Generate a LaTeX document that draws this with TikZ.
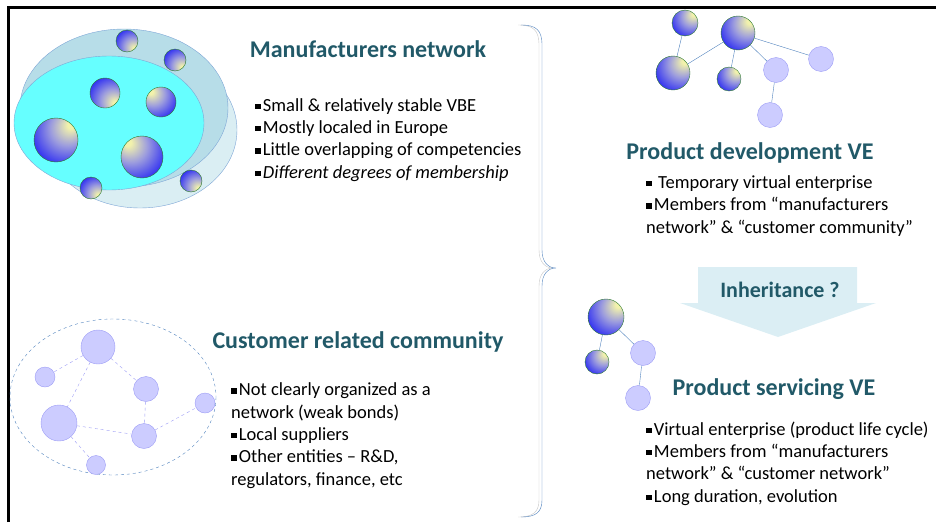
\documentclass[tikz,border=0pt]{standalone}
\usepackage{fontspec}
\setmainfont{Carlito}
\usepackage{xcolor}
\usetikzlibrary{shapes.geometric}

\definecolor{titleteal}{HTML}{215968}
\definecolor{ellA}{HTML}{B7DDE8}
\definecolor{ellB}{HTML}{DAEEF3}
\definecolor{ellC}{HTML}{66FFFF}
\definecolor{ellline}{HTML}{7EA6D6}
\definecolor{lav}{HTML}{CCCCFF}
\definecolor{lavline}{HTML}{9C9CF5}
\definecolor{linkblue}{HTML}{4F81BD}
\definecolor{ballgreen}{HTML}{2C7A2C}
\definecolor{vyel}{HTML}{F2F2AC}
\definecolor{vmid}{HTML}{9C9CDE}
\definecolor{vblue}{HTML}{1E1EF5}
\definecolor{arrowfill}{HTML}{DBEEF4}

% highlighted balls, the highlight sits in one corner
\pgfdeclareradialshading{vballne}{\pgfpoint{18bp}{18bp}}{color(0bp)=(vyel); color(4bp)=(vyel); color(20bp)=(vmid); color(42bp)=(vblue); color(80bp)=(vblue)}
\pgfdeclareradialshading{vballnw}{\pgfpoint{-18bp}{18bp}}{color(0bp)=(vyel); color(4bp)=(vyel); color(20bp)=(vmid); color(42bp)=(vblue); color(80bp)=(vblue)}
\pgfdeclareradialshading{vballse}{\pgfpoint{18bp}{-18bp}}{color(0bp)=(vyel); color(4bp)=(vyel); color(20bp)=(vmid); color(42bp)=(vblue); color(80bp)=(vblue)}

\newcommand{\sqb}{\raisebox{0.22ex}{\rule{0.3em}{0.3em}}\hspace{0.12em}}

\tikzset{
  vball/.style={circle, draw=ballgreen, thin, shading=vballne, inner sep=0pt, minimum size=#1},
  lball/.style={circle, draw=lavline, fill=lav, inner sep=0pt, minimum size=#1},
  title/.style={font=\bfseries\fontsize{24}{28}\selectfont, text=titleteal, inner sep=0pt},
  bullets/.style={font=\fontsize{18.5}{22.3}\selectfont, align=left, inner sep=0pt, anchor=base west},
  link/.style={draw=linkblue, thin},
  weaklink/.style={draw=lavline, dashed, thin}
}

\begin{document}
\begin{tikzpicture}[x=1pt,y=-1pt]
    \useasboundingbox (0,0) rectangle (936,522);

    % Frame on the top and left side
    \draw[line width=3pt] (8,522) -- (8,7) -- (936,7);

    % Manufacturers network: three overlapping ellipses
    \fill[ellB, draw=ellline] (140,130) ellipse [x radius=97, y radius=78];
    \fill[ellA, draw=ellline] (124,108) ellipse [x radius=104, y radius=79];
    \fill[ellC, draw=ellline] (109,123) ellipse [x radius=95, y radius=67];

    \node[vball=22, shading=vballse] (m1) at (127,41) {};
    \node[vball=22, shading=vballse] (m2) at (175,60) {};
    \node[vball=30, shading=vballse] (m3) at (105,93) {};
    \node[vball=30, shading=vballnw] (m4) at (161,102) {};
    \node[vball=44] (m5) at (56,140) {};
    \node[vball=42, shading=vballnw] (m6) at (142,157) {};
    \node[vball=22, shading=vballse] (m7) at (91,188) {};
    \node[vball=22, shading=vballse] (m8) at (191,181) {};

    \node[title, anchor=base] (mantitle) at (368,57) {Manufacturers network};
    % base of a text block = base line of its last line
    \node[bullets] (mantext) at (255,178) {\sqb Small \& relatively stable VBE\\
        \sqb Mostly localed in Europe\\
        \sqb Little overlapping of competencies\\
        \sqb\textit{Different degrees of membership}};

    % Customer related community: loose network
    \draw[linkblue, dashed, thin] (113,397) ellipse [x radius=103, y radius=78];
    \node[lball=34] (c1) at (98,347) {};
    \node[lball=20] (c2) at (45,377) {};
    \node[lball=25] (c3) at (146,389) {};
    \node[lball=36] (c4) at (59,423) {};
    \node[lball=25] (c5) at (144,436) {};
    \node[lball=20] (c6) at (205,403) {};
    \node[lball=19] (c7) at (96,465) {};
    \draw[weaklink] (c1) -- (c2);
    \draw[weaklink] (c1) -- (c3);
    \draw[weaklink] (c1) -- (c4);
    \draw[weaklink] (c3) -- (c5);
    \draw[weaklink] (c4) -- (c5);
    \draw[weaklink] (c5) -- (c6);
    \draw[weaklink] (c4) -- (c7);

    \node[title, anchor=base] (custtitle) at (358,348) {Customer related community};
    \node[bullets] (custtext) at (231,485) {\sqb Not clearly organized as a\\
        network (weak bonds)\\
        \sqb Local suppliers\\
        \sqb Other entities -- R\&D,\\
        regulators, finance, etc};

    % Curly brace joining both groups
    \draw[gray!45, xshift=-3pt] (521,25) .. controls (536,25) and (542,30) .. (542,45) -- (542,250)
        .. controls (542,262) and (548,268) .. (556,268) .. controls (548,268) and (542,274) .. (542,286)
        -- (542,500) .. controls (542,512) and (536,517) .. (521,517);
    \draw[linkblue] (521,25) .. controls (536,25) and (542,30) .. (542,45) -- (542,250)
        .. controls (542,262) and (548,268) .. (556,268) .. controls (548,268) and (542,274) .. (542,286)
        -- (542,500) .. controls (542,512) and (536,517) .. (521,517);

    % Product development VE
    \node[vball=26] (d1) at (685,23) {};
    \node[vball=34] (d2) at (738,33) {};
    \node[vball=34] (d3) at (673,73) {};
    \node[vball=24] (d4) at (729,79) {};
    \node[lball=25] (d5) at (776,70) {};
    \node[lball=25] (d6) at (821,59) {};
    \node[lball=25] (d7) at (770,115) {};
    \draw[link] (d1) -- (d3);
    \draw[link] (d3) -- (d2);
    \draw[link] (d2) -- (d4);
    \draw[link] (d2) -- (d5);
    \draw[link] (d2) -- (d6);
    \draw[link] (d5) -- (d7);

    \node[title, anchor=base] (devtitle) at (750,159) {Product development VE};
    \node[bullets] (devtext) at (646,233) {\sqb\ Temporary virtual enterprise\\
        \sqb Members from “manufacturers\\
        network” \& “customer community”};

    % Inheritance block arrow
    \fill[arrowfill] (698,267) -- (857,267) -- (857,303) -- (876,303) -- (778,337)
        -- (680,303) -- (698,303) -- cycle;
    \node[title, anchor=base, font=\bfseries\fontsize{22}{26}\selectfont] (inherit) at (780,297) {Inheritance ?};

    % Product servicing VE
    \node[vball=36] (s1) at (606,317) {};
    \node[vball=24] (s2) at (597,362) {};
    \node[lball=25] (s3) at (643,353) {};
    \node[lball=25] (s4) at (638,398) {};
    \draw[link] (s1) -- (s2);
    \draw[link] (s1) -- (s3);
    \draw[link] (s3) -- (s4);

    \node[title, anchor=base] (servtitle) at (774,395) {Product servicing VE};
    \node[bullets] (servtext) at (646,502) {\sqb Virtual enterprise (product life cycle)\\
        \sqb Members from “manufacturers\\
        network” \& “customer network”\\
        \sqb Long duration, evolution};

\end{tikzpicture}
\end{document}
